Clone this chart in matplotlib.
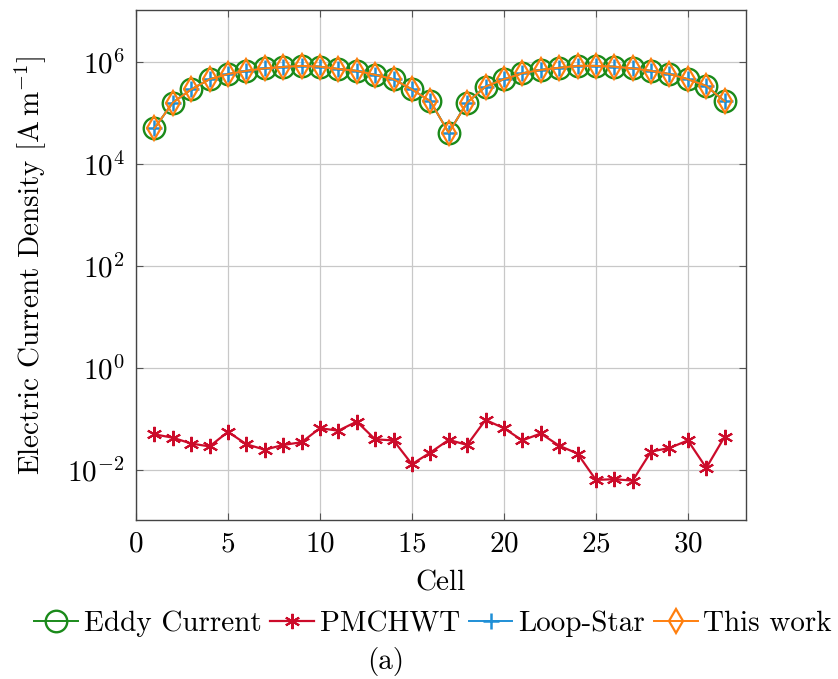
import numpy as np
import matplotlib.pyplot as plt

plt.rcParams['font.family'] = 'cmr10'
plt.rcParams['mathtext.fontset'] = 'cm'
plt.rcParams['axes.unicode_minus'] = False
plt.rcParams['axes.formatter.use_mathtext'] = True

# Current density per cell
cells = np.arange(1, 33)
eddy = [5.0e4, 1.6e5, 2.9e5, 4.6e5, 5.8e5, 6.7e5, 7.5e5, 8.0e5,
        8.4e5, 8.1e5, 7.3e5, 6.7e5, 5.6e5, 4.6e5, 2.9e5, 1.7e5,
        4.1e4, 1.6e5, 3.3e5, 4.6e5, 6.0e5, 7.0e5, 7.7e5, 8.4e5,
        8.4e5, 8.1e5, 7.5e5, 6.7e5, 5.8e5, 4.6e5, 3.4e5, 1.7e5]
pmchwt = [0.050, 0.043, 0.033, 0.029, 0.056, 0.032, 0.025, 0.031,
          0.035, 0.066, 0.059, 0.089, 0.040, 0.038, 0.013, 0.022,
          0.039, 0.031, 0.096, 0.066, 0.038, 0.052, 0.030, 0.021,
          0.0064, 0.0066, 0.0062, 0.023, 0.027, 0.038, 0.011, 0.045]
loop_star = eddy
this_work = eddy

green = '#1a8a1a'
red = '#cc0b2a'
blue = '#1f8fd6'
orange = '#ff7f0e'
fs = 21

fig = plt.figure(figsize=(8.38, 6.79), dpi=100)
ax = fig.add_axes([0.1623, 0.2342, 0.7277, 0.7511])

ax.plot(cells, eddy, color=green, lw=1.4, marker='o', ms=15.5,
        mfc='none', mew=1.7, label='Eddy Current')
ax.plot(cells, pmchwt, color=red, lw=1.6, marker=(6, 2, 0), ms=11,
        mew=1.5, label='PMCHWT')
ax.plot(cells, loop_star, color=blue, lw=1.4, marker='+', ms=12,
        mew=1.8, label='Loop-Star')
ax.plot(cells, this_work, color=orange, lw=1.4, marker='d', ms=12,
        mfc='none', mew=1.6, label='This work')

ax.set_yscale('log')
ax.set_xlim(0, 33.15)
ax.set_ylim(10**-2.98, 10**7.02)
ax.set_xticks([0, 5, 10, 15, 20, 25, 30])
ax.set_yticks([1e-2, 1e0, 1e2, 1e4, 1e6])
ax.yaxis.set_minor_locator(plt.NullLocator())
ax.grid(True, color='#c8c8c8', lw=0.9)
ax.set_axisbelow(True)
ax.tick_params(direction='in', top=True, right=True, length=5,
               labelsize=fs, color='#555555', pad=8)
for s in ax.spines.values():
    s.set_color('#444444')
    s.set_linewidth(1.0)

ax.set_xlabel('Cell', fontsize=fs, labelpad=9)
ax.set_ylabel(r'Electric Current Density $[\mathrm{A\,m^{-1}}]$',
              fontsize=fs, labelpad=13)

ax.legend(loc='upper center', bbox_to_anchor=(0.487, -0.155), ncol=4,
          frameon=False, fontsize=fs, handlelength=1.5, handletextpad=0.2,
          columnspacing=0.3, borderaxespad=0)
fig.text(386 / 838, 1 - 662 / 679, '(a)', ha='center', va='center',
         fontsize=fs)

fig.savefig('out.png', dpi=100)
